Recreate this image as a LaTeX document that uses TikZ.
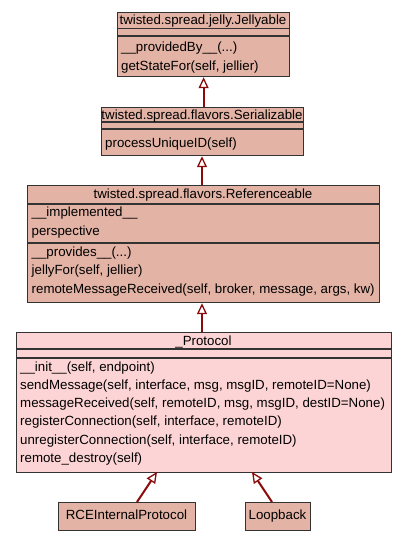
\documentclass[tikz,border=0pt]{standalone}
\usepackage{fontspec}
\setmainfont{Liberation Sans}
\usetikzlibrary{arrows.meta}

\definecolor{clsfill}{HTML}{E3B3A5}
\definecolor{protofill}{HTML}{FDD4D5}
\definecolor{edgecol}{HTML}{8B0A0A}
\definecolor{linecol}{HTML}{333333}

\tikzset{
  clsbox/.style={draw=linecol, line width=1.2pt, fill=clsfill, rectangle, inner sep=0pt},
  protobox/.style={clsbox, fill=protofill},
  sepline/.style={draw=linecol, line width=1.2pt},
  member/.style={anchor=base west, inner sep=0pt, font=\fontsize{13.3}{15}\selectfont},
  title/.style={anchor=base, inner sep=0pt, font=\fontsize{13.3}{15}\selectfont},
  inherit/.style={draw=edgecol, line width=2pt,
    -{Triangle[open, length=11pt, width=10pt, line width=1.3pt]}, fill=white},
}

% a UML class box: #1 style, #2 name, #3 left, #4 top, #5 right, #6 bottom
\newcommand{\umlbox}[6][clsbox]{%
  \node[#1, minimum width={#5-#3}, minimum height={#6-#4}, anchor=north west] (#2) at (#3,#4) {};
}

\begin{document}
\begin{tikzpicture}[x=1pt, y=-1pt]
  \useasboundingbox[fill=white] (0,0) rectangle (405,541);

  % twisted.spread.jelly.Jellyable
  \umlbox{jel}{117}{12}{289}{76}
  \draw[sepline] (117,28.5) -- (289,28.5);
  \draw[sepline] (117,36) -- (289,36);
  \node[title] (jelT) at (203,24.5) {twisted.spread.jelly.Jellyable};
  \node[member] (jelM1) at (121,51) {\_\_providedBy\_\_(...)};
  \node[member] (jelM2) at (121,70) {getStateFor(self, jellier)};

  % twisted.spread.flavors.Serializable
  \umlbox{ser}{101}{107}{303}{155}
  \draw[sepline] (101,122) -- (303,122);
  \draw[sepline] (101,129) -- (303,129);
  \node[title] (serT) at (202,119) {twisted.spread.flavors.Serializable};
  \node[member] (serM1) at (105,147) {processUniqueID(self)};

  % twisted.spread.flavors.Referenceable
  \umlbox{ref}{27}{185}{379}{302}
  \draw[sepline] (27,204) -- (379,204);
  \draw[sepline] (27,243) -- (379,243);
  \node[title] (refT) at (203,198) {twisted.spread.flavors.Referenceable};
  \node[member] (refA1) at (31.5,216.5) {\_\_implemented\_\_};
  \node[member] (refA2) at (31.5,235) {perspective};
  \node[member] (refM1) at (31.5,256) {\_\_provides\_\_(...)};
  \node[member] (refM2) at (31.5,274.5) {jellyFor(self, jellier)};
  \node[member] (refM3) at (31.5,293) {remoteMessageReceived(self, broker, message, args, kw)};

  % _Protocol
  \umlbox[protobox]{pro}{16}{332}{391}{472}
  \draw[sepline] (16,349) -- (391,349);
  \draw[sepline] (16,358) -- (391,358);
  \node[title] (proT) at (203.5,345) {\_Protocol};
  \node[member] (proM1) at (20,371) {\_\_init\_\_(self, endpoint)};
  \node[member] (proM2) at (20,389.3) {sendMessage(self, interface, msg, msgID, remoteID=None)};
  \node[member] (proM3) at (20,407.6) {messageReceived(self, remoteID, msg, msgID, destID=None)};
  \node[member] (proM4) at (20,425.9) {registerConnection(self, interface, remoteID)};
  \node[member] (proM5) at (20,444.2) {unregisterConnection(self, interface, remoteID)};
  \node[member] (proM6) at (20,462.5) {remote\_destroy(self)};

  % subclasses
  \umlbox{rce}{58}{502}{195}{530}
  \node[title] (rceT) at (126.5,519.5) {RCEInternalProtocol};
  \umlbox{loop}{245}{502}{310}{530}
  \node[title] (loopT) at (277.5,519.5) {Loopback};

  % inheritance edges
  \draw[inherit] (ser.north -| jel.south) -- (jel.south);
  \draw[inherit] (202,185) coordinate (refTop) -- (ser.south -| refTop);
  \draw[inherit] (202,332) coordinate (proTop) -- (ref.south -| proTop);
  \draw[inherit] (137,502) coordinate (rceTop) -- (157,472) coordinate (rceTip);
  \draw[inherit] (272,502) coordinate (loopTop) -- (252,472) coordinate (loopTip);
\end{tikzpicture}
\end{document}
